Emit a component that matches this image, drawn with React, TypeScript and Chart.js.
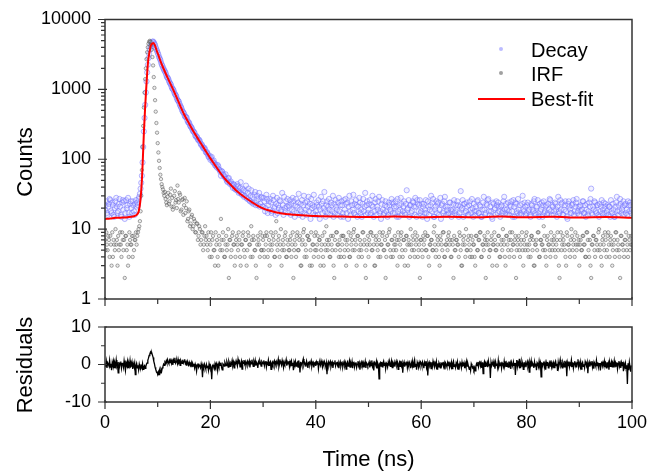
import React, { useEffect, useRef } from 'react';
import { Chart, registerables } from 'chart.js';

Chart.register(...registerables);

// ---------- data ----------
const TIME_STEP = 0.125; // ns per channel, channels from 0 to 100 ns

const DECAY = [
  19, 22, 25, 17, 16, 21, 23, 27, 26, 18, 17, 24, 22, 16, 15, 20, 25, 28, 21, 17, 18, 23, 27, 21, 16, 15, 24, 26, 19, 25, 14, 17, 26, 20, 22, 28, 17, 15, 23, 25,
  20, 17, 25, 22, 18, 16, 23, 26, 21, 24, 22, 27, 29, 32, 38, 46, 58, 90, 150, 250, 390, 600, 900, 1300, 1750, 2250, 2800, 3250, 3700, 4050, 4350, 4600, 4800, 4850, 4700, 4500, 4300, 4000, 3750, 3550,
  3350, 3150, 2920, 2780, 2640, 2450, 2280, 2180, 2060, 1960, 1870, 1800, 1720, 1600, 1500, 1470, 1420, 1330, 1260, 1210, 1170, 1090, 1030, 1010, 975, 910, 860, 835, 805, 750, 705, 690, 670, 625, 590, 565, 540, 505, 480, 468,
  450, 418, 402, 405, 392, 360, 338, 341, 326, 305, 293, 288, 276, 260, 249, 247, 238, 219, 210, 214, 205, 192, 186, 190, 181, 168, 160, 163, 153, 145, 142, 146, 138, 127, 124, 126, 118, 110, 106, 112,
  98, 104, 108, 95, 90, 96, 88, 82, 84, 79, 76, 83, 79, 72, 70, 66, 58, 68, 66, 61, 60, 57, 55, 61, 52, 49, 47, 53, 54, 46, 44, 48, 45, 42, 39, 44, 43, 38, 37, 41,
  36, 44, 41, 33, 34, 39, 47, 32, 31, 38, 36, 29, 30, 35, 42, 28, 27, 33, 38, 26, 25, 30, 36, 24, 29, 23, 24, 31, 34, 22, 25, 30, 22, 27, 33, 21, 23, 29, 28, 21,
  21, 28, 25, 18, 20, 31, 27, 17, 22, 25, 19, 27, 24, 17, 18, 30, 26, 20, 21, 16, 23, 28, 17, 22, 20, 26, 25, 18, 19, 33, 22, 16, 29, 20, 18, 25, 21, 27, 17, 22,
  21, 26, 16, 23, 19, 28, 25, 18, 15, 22, 27, 17, 21, 24, 32, 16, 19, 23, 18, 26, 15, 22, 30, 17, 24, 19, 16, 25, 21, 29, 18, 23, 14, 27, 20, 22, 17, 31, 21, 16,
  18, 24, 22, 16, 26, 21, 14, 19, 29, 23, 17, 25, 20, 34, 18, 15, 22, 25, 17, 21, 27, 19, 16, 24, 22, 18, 30, 15, 23, 17, 26, 21, 19, 16, 24, 28, 18, 22, 15, 25,
  22, 17, 15, 26, 19, 27, 23, 17, 24, 14, 21, 30, 18, 16, 25, 22, 19, 31, 17, 23, 16, 26, 22, 15, 21, 18, 28, 24, 17, 19, 15, 23, 27, 18, 21, 33, 16, 22, 25, 17,
  19, 23, 26, 16, 17, 22, 30, 21, 15, 18, 24, 27, 16, 21, 19, 25, 29, 17, 18, 14, 23, 26, 19, 16, 17, 22, 25, 18, 21, 15, 16, 24, 22, 19, 18, 27, 24, 17, 23, 21,
  17, 25, 21, 15, 27, 18, 15, 22, 19, 28, 23, 16, 18, 21, 25, 17, 16, 23, 36, 19, 20, 26, 15, 22, 22, 17, 18, 25, 24, 21, 16, 28, 21, 15, 26, 23, 18, 22, 26, 17,
  18, 23, 15, 21, 23, 17, 19, 26, 17, 14, 25, 21, 16, 19, 22, 30, 18, 24, 27, 15, 15, 19, 21, 25, 17, 23, 24, 16, 19, 28, 14, 22, 23, 17, 18, 25, 29, 21, 16, 19,
  21, 16, 17, 24, 24, 19, 15, 18, 19, 23, 26, 17, 18, 22, 16, 25, 22, 15, 17, 21, 35, 19, 20, 26, 15, 23, 23, 17, 18, 24, 21, 16, 16, 22, 25, 19, 17, 27, 20, 15,
  23, 18, 16, 21, 18, 25, 26, 17, 17, 22, 21, 15, 15, 19, 24, 29, 19, 16, 17, 23, 22, 26, 27, 18, 16, 21, 18, 15, 14, 24, 23, 19, 20, 16, 25, 22, 17, 24, 21, 18,
  15, 21, 22, 17, 18, 25, 29, 19, 17, 23, 19, 16, 24, 18, 16, 22, 21, 25, 18, 15, 26, 21, 15, 24, 23, 18, 17, 27, 19, 16, 22, 17, 16, 23, 30, 19, 18, 24, 21, 16,
  17, 22, 24, 18, 19, 16, 15, 23, 22, 19, 18, 25, 27, 17, 16, 21, 21, 26, 17, 15, 23, 18, 19, 24, 15, 22, 25, 17, 18, 21, 22, 16, 17, 23, 19, 27, 26, 18, 16, 22,
  21, 16, 18, 24, 23, 19, 15, 21, 29, 18, 17, 26, 19, 23, 24, 16, 16, 19, 22, 25, 18, 15, 14, 23, 25, 21, 19, 17, 17, 22, 23, 26, 16, 18, 21, 24, 27, 17, 18, 21,
  16, 21, 22, 18, 19, 25, 25, 17, 17, 22, 15, 19, 23, 16, 18, 24, 21, 27, 38, 17, 16, 21, 19, 25, 24, 18, 17, 22, 22, 16, 15, 23, 18, 21, 26, 17, 19, 24, 17, 21,
  23, 17, 18, 22, 16, 21, 21, 15, 26, 18, 17, 23, 19, 15, 15, 21, 24, 29, 18, 16, 22, 18, 27, 23, 17, 19, 21, 25, 16, 22, 23, 17, 19, 16, 25, 22, 18, 24, 22, 17,
  19,
];

const IRF = [
  7, 5, 9, 6, 5, 8, 7, 4, 8, 6, 3, 9, 4, 7, 6, 5, 10, 6, 7, 3, 8, 5, 6, 9, 6, 4, 9, 7, 5, 7, 2, 8, 8, 5, 6, 3, 4, 9, 7, 6,
  6, 8, 4, 8, 5, 7, 7, 9, 6, 8, 9, 10, 11, 13, 18, 30, 70, 150, 300, 550, 900, 1400, 2000, 2700, 3400, 4000, 4500, 4800, 4950, 4800, 4300, 3700, 2900, 2200, 1500, 1050, 700, 480, 330, 240,
  170, 125, 95, 75, 60, 52, 44, 40, 37, 33, 30, 34, 27, 24, 22, 29, 33, 23, 25, 31, 38, 21, 28, 19, 21, 30, 35, 24, 26, 20, 42, 27, 24, 33, 31, 18, 19, 26, 27, 16,
  22, 28, 17, 20, 25, 13, 14, 18, 19, 11, 12, 15, 16, 10, 11, 14, 13, 9, 9, 12, 12, 7, 8, 11, 10, 6, 7, 9, 9, 5, 6, 8, 11, 7, 8, 6, 5, 9, 7, 4,
  6, 9, 4, 7, 8, 5, 5, 3, 9, 6, 7, 4, 3, 8, 6, 5, 14, 7, 5, 9, 7, 4, 4, 6, 8, 5, 6, 10, 2, 7, 7, 4, 5, 8, 9, 6, 6, 3, 4, 7,
  8, 6, 5, 9, 7, 4, 3, 6, 6, 8, 9, 5, 4, 7, 7, 3, 5, 9, 8, 6, 6, 4, 11, 7, 4, 8, 7, 5, 5, 3, 2, 6, 8, 7, 6, 4, 9, 5, 5, 8,
  7, 5, 4, 8, 6, 9, 8, 4, 5, 7, 3, 6, 9, 5, 6, 8, 7, 4, 4, 9, 13, 6, 5, 7, 8, 4, 6, 10, 3, 5, 7, 6, 5, 8, 9, 4, 4, 7, 6, 5,
  5, 7, 8, 4, 6, 9, 2, 5, 7, 6, 4, 8, 9, 5, 5, 7, 8, 3, 3, 6, 7, 9, 10, 4, 6, 5, 4, 8, 8, 7, 7, 3, 5, 9, 3, 6, 6, 4, 8, 5,
  9, 5, 6, 8, 4, 7, 7, 3, 5, 6, 8, 4, 3, 9, 6, 5, 11, 7, 5, 6, 7, 4, 4, 8, 6, 5, 8, 3, 2, 7, 5, 9, 9, 6, 6, 4, 7, 5, 4, 8,
  6, 8, 8, 4, 5, 7, 3, 6, 7, 5, 9, 4, 4, 8, 6, 7, 5, 9, 10, 5, 7, 6, 3, 8, 8, 4, 5, 7, 6, 5, 4, 9, 9, 6, 7, 3, 2, 5, 6, 8,
  4, 7, 6, 9, 9, 5, 5, 8, 6, 3, 3, 7, 8, 6, 5, 4, 7, 9, 4, 6, 6, 8, 9, 5, 5, 7, 2, 4, 8, 6, 6, 9, 10, 5, 4, 7, 7, 4, 5, 6,
  8, 6, 5, 7, 3, 9, 7, 4, 6, 8, 9, 5, 4, 7, 7, 3, 5, 8, 8, 6, 3, 7, 6, 4, 10, 6, 5, 8, 7, 5, 4, 9, 6, 7, 8, 4, 5, 6, 2, 7,
  7, 5, 4, 8, 6, 7, 9, 5, 5, 8, 8, 4, 3, 6, 6, 7, 7, 5, 5, 9, 11, 6, 4, 5, 8, 7, 6, 4, 3, 8, 7, 6, 5, 9, 9, 4, 4, 6, 6, 7,
  5, 8, 9, 6, 7, 4, 4, 7, 6, 2, 8, 5, 5, 7, 7, 6, 6, 4, 9, 8, 5, 3, 3, 6, 7, 8, 6, 4, 10, 5, 5, 7, 8, 6, 4, 5, 8, 4, 7, 6,
  6, 4, 3, 8, 8, 5, 5, 7, 7, 9, 9, 4, 4, 6, 6, 5, 8, 7, 2, 6, 7, 9, 6, 4, 5, 5, 7, 8, 3, 6, 6, 9, 7, 5, 5, 3, 6, 8, 8, 4,
  4, 6, 7, 5, 10, 7, 6, 4, 3, 8, 8, 6, 5, 7, 4, 9, 7, 5, 9, 6, 6, 4, 7, 8, 2, 5, 6, 7, 8, 5, 4, 6, 7, 9, 5, 3, 7, 6, 5, 8,
  9, 6, 5, 4, 6, 7, 4, 8, 8, 5, 7, 3, 3, 6, 6, 7, 5, 9, 9, 4, 4, 7, 7, 6, 6, 5, 11, 8, 5, 4, 3, 7, 8, 6, 6, 5, 4, 9, 7, 5,
  6, 7, 8, 5, 4, 6, 7, 9, 5, 3, 2, 7, 9, 5, 6, 8, 7, 6, 5, 4, 3, 9, 8, 6, 6, 5, 4, 7, 10, 8, 5, 6, 7, 4, 9, 6, 5, 8, 6, 7,
  3, 6, 7, 5, 5, 8, 8, 6, 6, 4, 4, 9, 9, 7, 5, 4, 7, 3, 2, 6, 6, 8, 8, 5, 4, 7, 7, 6, 5, 9, 10, 5, 6, 4, 3, 7, 8, 6, 5, 9,
  7, 4, 5, 8, 9, 6, 4, 7, 8, 6, 3, 5, 6, 7, 4, 9, 9, 5, 7, 6, 5, 4, 2, 8, 8, 6, 6, 5, 4, 7, 7, 9, 5, 6, 4, 8, 7, 5, 6, 8,
  6,
];

const RESIDUALS = [
  0.3, -0.6, 0.8, -0.9, 0.5, 0.1, -0.4, 1.1, -0.7, 0.2, -1.5, 0.6, -0.2, 0.9, -0.8, 0.4, -0.3, 1.2, -0.5, 0.0, -2.2, 0.7, -0.6, 0.3, 0.8, -1.0, 0.2, 0.5, -0.7, 1.0, -0.3, -1.6, 0.4, -0.2, 0.9, -0.8, 0.3, -0.4, 1.1, -0.6,
  -0.4, 0.6, -1.2, 0.2, -0.5, 0.4, -2.7, -0.3, 0.3, -0.9, -0.2, -1.4, 0.1, -0.7, -1.1, -0.4, -0.9, 0.2, -1.3, -0.6, -0.3, -1.0, -0.5, 0.1, 0.4, 1.1, 1.7, 2.4, 2.8, 3.3, 2.9, 3.1, 2.5, 1.9, 0.9, 0.2, -0.7, -1.3, -1.8, -2.1,
  -2.4, -1.9, -2.7, -1.6, -2.2, -1.3, -1.8, -0.9, -0.5, 0.1, -0.2, 0.6, 0.3, 1.0, 0.4, 1.3, 0.6, 0.2, 1.1, 0.5, 1.6, 0.3, 0.9, -0.1, 1.2, 0.6, 1.8, 0.4, 0.8, 1.0, 0.2, 1.4, 0.5, 0.9, -0.2, 1.1, 0.7, 0.3, 1.3, 0.4,
  0.8, 1.4, 0.2, 0.6, -0.3, 0.9, 0.4, -0.5, 0.6, 0.1, -0.2, 0.5, -0.7, 0.3, -0.4, 0.2, -0.9, 0.1, -0.5, -1.8, -0.2, 0.3, -0.7, -0.1, -0.4, -0.9, 0.2, -0.6, -3.4, -0.3, -1.0, 0.1, -0.5, -1.2, 0.0, -0.8, -0.3, -1.5, 0.2, -0.6,
  -0.2, -0.9, -3.9, -0.4, -0.1, -0.7, -1.1, 0.2, -0.5, 0.3, -0.3, -1.6, 0.1, -0.6, 0.4, -0.2, 0.5, -0.8, -1.4, 0.2, 0.0, -0.4, 0.6, 0.1, -0.3, 0.8, 0.2, -0.7, 0.9, 0.3, -0.5, 0.4, 0.1, 1.1, -0.2, 0.6, -0.9, 0.5, 0.2, 1.0,
  0.3, -0.4, 1.4, 0.5, 0.8, -0.6, 0.2, 0.9, -1.2, 0.6, 0.3, 1.2, 0.1, 0.7, -0.3, 0.5, 0.9, -0.2, 0.4, 1.0, -0.8, 0.6, 0.2, 1.3, 0.4, -0.5, 0.8, 0.1, 1.1, -0.3, 0.6, 0.3, -0.9, 0.7, 0.2, 1.0, 0.4, -0.4, 0.8, 0.5,
  0.2, 1.1, -0.3, 0.6, 0.9, -0.7, 0.4, 0.1, 1.2, -0.2, 0.5, 0.8, -1.3, 0.3, 0.7, 0.0, 0.6, 1.0, -0.4, 0.3, 0.8, -0.1, 0.5, 1.4, -0.6, 0.2, 0.9, 0.4, -0.2, 1.1, 0.3, -0.8, 0.7, 0.1, 0.5, 1.3, -0.3, 0.6, 0.2, 0.9,
  -0.5, 0.8, 0.3, 1.0, -0.2, 0.5, -1.5, 0.7, 0.1, 0.9, -0.4, 0.3, 0.6, -0.7, 1.1, 0.2, -2.1, 0.5, 0.4, -0.3, 0.8, 1.5, -0.1, 0.6, 0.3, -0.6, 0.9, 0.2, -0.9, 0.5, 0.7, -0.2, 0.4, 1.0, -0.5, 0.3, 0.6, -0.8, 0.2, 0.5,
  -0.4, 0.7, 0.1, 0.9, -1.1, 0.3, 0.5, -0.2, 1.0, 0.2, -0.7, 0.6, -0.1, 0.8, 0.3, -0.5, 0.4, -2.6, 0.2, 0.7, -0.3, 0.5, 0.9, -0.6, 0.1, 0.6, -0.9, 0.4, 0.2, 1.1, -0.4, 0.3, 0.7, -0.2, 0.5, -1.0, 0.3, 0.8, -0.5, 0.2,
  0.5, -0.6, 0.2, 0.8, -0.3, 0.4, -1.2, 0.3, 0.7, -0.4, 0.1, 1.0, -0.7, 0.4, -0.2, 0.8, -1.0, 0.3, 0.5, -0.5, 0.2, 0.6, -0.8, 0.1, 0.9, -0.3, 0.4, -1.4, 0.2, 0.7, -0.1, 0.5, -0.6, 0.3, -0.2, 0.8, -0.9, 0.4, 0.1, -0.4,
  0.2, 0.7, -0.8, 0.4, -0.3, 1.1, -0.5, 0.1, -1.6, 0.6, 0.3, -0.2, 0.8, -0.9, 0.4, -0.1, -3.8, 0.2, 0.5, -0.4, 0.7, -0.6, 0.3, 0.9, -0.2, 0.5, -1.1, 0.4, 0.1, -0.7, 0.6, -0.3, 0.8, -0.5, 0.2, 1.0, -0.8, 0.3, -0.2, 0.6,
  -0.6, 0.3, 0.9, -0.2, 0.5, -1.3, 0.1, 0.6, -0.5, 1.0, -0.3, 0.4, -2.2, 0.2, 0.7, -0.6, 0.3, -0.1, 0.8, -0.9, 0.4, -0.4, 0.6, 0.1, -1.0, 0.5, -0.2, 0.9, -0.7, 0.3, 1.2, -0.5, 0.2, -1.4, 0.6, 0.0, -0.8, 0.5, -0.3, 0.7,
  0.4, -0.4, 0.7, 0.1, -1.0, 0.5, -0.2, 0.9, -0.7, 0.3, -2.9, 0.3, 0.7, -0.3, 0.2, -1.1, 0.6, -0.5, 0.9, 0.1, -0.7, 0.4, -0.2, 0.8, -1.2, 0.3, -0.6, 0.5, 0.1, -0.9, 0.6, -0.4, 0.2, 0.7, -0.5, 0.3, -1.3, 0.4, 0.0, -0.6,
  0.5, -0.3, 0.8, -0.7, 0.2, -0.4, 0.6, -1.1, 0.3, 0.9, -0.5, 0.1, -0.8, 0.4, -0.2, 0.7, -1.2, 0.3, -0.6, 0.5, 0.1, -0.9, 0.6, -0.4, -0.3, 0.4, -1.0, 0.2, -0.6, 0.8, -0.4, 0.1, -0.7, -1.3, -0.5, -1.6, 0.2, -0.3, -0.9, -0.6,
  -1.4, -0.8, -1.7, -0.5, 0.2, -0.3, 0.7, -0.6, 0.4, 1.0, -0.4, 0.3, -0.9, 0.6, -2.4, 0.2, 0.8, -0.5, 0.3, -0.1, 0.5, -0.7, 0.9, -0.3, 0.2, -3.6, 0.6, -0.4, 0.1, 0.8, -0.6, 0.4, -1.1, 0.7, -0.2, 0.3, -0.8, 1.1, -0.5, 0.2,
  -0.3, 0.6, -1.0, 0.4, 0.1, -0.6, 0.9, -0.4, 0.3, -0.5, 0.5, 0.2, -0.7, 0.8, -0.3, 0.4, -1.2, 0.6, 0.0, -0.5, 0.7, -0.2, 0.4, -2.8, 0.3, 1.2, -0.6, 0.5, -0.1, 1.5, -0.8, 0.3, -0.4, 0.9, 0.2, -1.3, 0.6, -0.3, 0.4, -0.7,
  0.2, 0.8, -0.5, 0.3, -2.0, 0.6, -0.2, 1.0, -0.6, 0.4, 0.1, -0.9, 0.7, -0.4, 0.3, -1.5, 0.5, 0.2, -0.6, 0.9, -0.3, 0.4, -3.3, 0.6, -0.5, 0.2, 0.8, -0.7, 0.3, -1.4, 0.5, -0.2, 0.7, -0.9, 0.1, 0.6, -0.4, 1.1, -0.6, 0.3,
  -0.2, 0.5, -0.8, 0.4, 0.9, -0.3, 0.2, -1.7, 0.6, -0.5, 0.3, 1.3, -0.4, 0.1, -0.9, 0.7, 0.2, -0.6, 1.0, -0.2, 0.4, -3.1, 0.5, -0.3, 0.8, -0.7, 0.3, -0.1, 1.2, -0.5, 0.6, -1.0, 0.3, 0.9, -0.4, 0.2, -0.8, 0.5, 1.4, -0.6,
  0.4, -0.3, 0.7, -1.2, 0.2, 0.6, -0.5, 0.1, -0.9, 0.8, 0.3, -0.4, 0.5, -2.3, 0.2, 0.7, -0.6, 0.4, -0.1, 0.9, -0.7, 0.3, -1.1, 0.5, 0.1, -0.5, 1.1, -0.3, 0.6, -0.8, 0.2, 0.4, -1.6, 0.3, 0.8, -0.4, 0.5, -0.2, 0.9, -0.7,
  0.2, -0.9, 0.6, -0.3, 0.4, -1.4, 0.7, -0.5, 0.1, 0.8, -0.6, 0.3, -0.2, 1.0, -0.8, 0.4, -0.4, 0.6, -1.2, 0.2, 0.9, -0.5, 0.3, -0.9, 0.5, -0.3, 0.7, -1.8, 0.1, -0.6, 0.4, -1.0, -0.2, -5.2, 0.3, -1.5, 0.6, -0.7, -1.9, -0.4,
  -0.5,
];

const FIT_TIME = [
  0, 1, 2, 3, 4, 5, 5.5, 6, 6.4, 6.7, 7, 7.2, 7.4, 7.6, 7.8, 8, 8.2, 8.5, 8.7, 9, 9.2, 9.5, 9.8,
  10.2, 10.6, 11.1, 12, 13, 14, 15, 16, 17, 18, 19, 20, 21, 22, 23, 24, 25, 26, 27, 28, 29, 30,
  31, 32, 33, 34, 35, 36, 38, 40, 45, 50, 55, 60, 65, 70, 75, 80, 85, 90, 95, 100,
];
const FIT_COUNTS = [
  14, 14.2, 14.5, 14.6, 14.7, 15, 15.3, 16, 18, 25, 50, 110, 260, 520, 970, 1700, 2600, 3600, 4240, 4550, 4600, 4200, 3600,
  3000, 2450, 1990, 1400, 970, 650, 440, 320, 235, 178, 135, 103, 80, 62, 50, 42, 35, 30.5, 27, 24, 21.5, 19.8,
  18.6, 17.7, 17.1, 16.6, 16.3, 16.0, 15.7, 15.4, 15.1, 14.9, 15.2, 14.8, 15.0, 14.8, 15.1, 14.8, 15.0, 14.7, 14.9, 14.6,
];

const SERIES_NAMES = ['Decay', 'IRF', 'Best-fit'];
const TIME_TICKS = [0, 20, 40, 60, 80, 100];
const TIME_MINOR = [10, 30, 50, 70, 90];
const COUNT_TICKS = [1, 10, 100, 1000, 10000];
const RESIDUAL_TICKS = [-10, 0, 10];
const RESIDUAL_MINOR = [-5, 5];
const X_TITLE = 'Time (ns)';
const Y_TITLE_TOP = 'Counts';
const Y_TITLE_BOTTOM = 'Residuals';

// ---------- styling ----------
const FONT = '"Liberation Sans", Arial, Helvetica, sans-serif';
const DECAY_BORDER = 'rgba(110,110,255,0.5)';
const DECAY_FILL = 'rgba(190,190,255,0.22)';
const IRF_BORDER = 'rgba(80,80,80,0.5)';
const IRF_FILL = 'rgba(170,170,170,0.22)';
const FIT_COLOR = '#ff0000';
const FRAME = '#333333';

const W = 650;
const TOP_H = 310;
const BOT_H = 161;
const AXIS_W = 105;
const PAD_R = 18;

function countMinor(): number[] {
  const out: number[] = [];
  for (let d = 1; d < 10000; d *= 10) for (let k = 2; k <= 9; k++) out.push(k * d);
  return out;
}

function framePlugin(id: string, yMajor: number[], yMinor: number[]) {
  return {
    id,
    afterDatasetsDraw(chart: any) {
      const { ctx, chartArea: a, scales } = chart;
      ctx.save();
      ctx.strokeStyle = FRAME;
      ctx.lineWidth = 1.5;
      ctx.strokeRect(a.left, a.top, a.right - a.left, a.bottom - a.top);
      ctx.lineWidth = 1.2;
      ctx.beginPath();
      for (const v of yMajor) {
        const y = scales.y.getPixelForValue(v);
        ctx.moveTo(a.left - 7, y);
        ctx.lineTo(a.left + 2, y);
      }
      for (const v of yMinor) {
        const y = scales.y.getPixelForValue(v);
        ctx.moveTo(a.left - 4, y);
        ctx.lineTo(a.left, y);
      }
      for (const v of TIME_TICKS) {
        const x = scales.x.getPixelForValue(v);
        ctx.moveTo(x, a.bottom - 2);
        ctx.lineTo(x, a.bottom + 7);
      }
      for (const v of TIME_MINOR) {
        const x = scales.x.getPixelForValue(v);
        ctx.moveTo(x, a.bottom);
        ctx.lineTo(x, a.bottom + 5);
      }
      ctx.stroke();
      ctx.restore();
    },
  };
}

function verticalTitle(ctx: CanvasRenderingContext2D, text: string, x: number, y: number) {
  ctx.save();
  ctx.translate(x, y);
  ctx.rotate(-Math.PI / 2);
  ctx.fillStyle = '#000';
  ctx.font = `22px ${FONT}`;
  ctx.textAlign = 'center';
  ctx.textBaseline = 'middle';
  ctx.fillText(text, 0, 0);
  ctx.restore();
}

const topDecor = {
  id: 'topDecor',
  afterDraw(chart: any) {
    const { ctx } = chart;
    verticalTitle(ctx, Y_TITLE_TOP, 26, 162);
    ctx.save();
    ctx.font = `20px ${FONT}`;
    ctx.fillStyle = '#000';
    ctx.textAlign = 'left';
    ctx.textBaseline = 'alphabetic';
    ctx.fillText(SERIES_NAMES[0], 531, 57);
    ctx.fillText(SERIES_NAMES[1], 531, 81);
    ctx.fillText(SERIES_NAMES[2], 531, 106);
    ctx.beginPath();
    ctx.arc(501, 49, 2, 0, Math.PI * 2);
    ctx.fillStyle = 'rgba(170,170,255,0.8)';
    ctx.fill();
    ctx.beginPath();
    ctx.arc(501, 73, 2, 0, Math.PI * 2);
    ctx.fillStyle = 'rgba(150,150,150,0.9)';
    ctx.fill();
    ctx.beginPath();
    ctx.moveTo(478, 99);
    ctx.lineTo(525, 99);
    ctx.strokeStyle = FIT_COLOR;
    ctx.lineWidth = 2;
    ctx.stroke();
    ctx.restore();
  },
};

const bottomDecor = {
  id: 'bottomDecor',
  afterDraw(chart: any) {
    const { ctx, chartArea: a } = chart;
    verticalTitle(ctx, Y_TITLE_BOTTOM, 26, 55);
    ctx.save();
    ctx.font = `22px ${FONT}`;
    ctx.fillStyle = '#000';
    ctx.textAlign = 'center';
    ctx.textBaseline = 'middle';
    ctx.fillText(X_TITLE, (a.left + a.right) / 2, 150);
    ctx.restore();
  },
};

const tickFont = { family: FONT, size: 18 };

const fixY = (s: any) => { s.width = AXIS_W; s.paddingTop = 0; s.paddingBottom = 0; };

export default function App() {
  const topRef = useRef<HTMLCanvasElement>(null);
  const botRef = useRef<HTMLCanvasElement>(null);

  useEffect(() => {
    const decayPts = DECAY.map((v, i) => ({ x: i * TIME_STEP, y: v }));
    const irfPts = IRF.map((v, i) => ({ x: i * TIME_STEP, y: v }));
    const fitPts = FIT_TIME.map((t, i) => ({ x: t, y: FIT_COUNTS[i] }));
    const resPts = RESIDUALS.map((v, i) => ({ x: i * TIME_STEP, y: v }));

    const top = new Chart(topRef.current!, {
      type: 'scatter',
      data: {
        datasets: [
          {
            label: SERIES_NAMES[0], data: decayPts, order: 2,
            pointRadius: 2.6, pointBorderWidth: 1,
            borderColor: DECAY_BORDER, backgroundColor: DECAY_FILL, showLine: false,
          },
          {
            label: SERIES_NAMES[1], data: irfPts, order: 1,
            pointRadius: 1.7, pointBorderWidth: 1,
            borderColor: IRF_BORDER, backgroundColor: IRF_FILL, showLine: false,
          },
          {
            label: SERIES_NAMES[2], data: fitPts, order: 0,
            showLine: true, pointRadius: 0, borderColor: FIT_COLOR, borderWidth: 2,
            cubicInterpolationMode: 'monotone', backgroundColor: FIT_COLOR,
          } as any,
        ],
      },
      options: {
        animation: false,
        responsive: false,
        maintainAspectRatio: false,
        devicePixelRatio: 1,
        layout: { padding: { left: 0, right: PAD_R, top: 19.5, bottom: 0 } },
        plugins: { legend: { display: false }, tooltip: { enabled: false } },
        events: [],
        scales: {
          x: {
            type: 'linear', min: 0, max: 100,
            grid: { display: false }, border: { display: false },
            ticks: { display: false },
            afterFit: (s: any) => { s.height = 11; s.paddingLeft = 0; s.paddingRight = 0; },
          },
          y: {
            type: 'logarithmic', min: 1, max: 10000,
            grid: { display: false }, border: { display: false },
            afterBuildTicks: (s: any) => { s.ticks = COUNT_TICKS.map((v) => ({ value: v })); },
            ticks: {
              color: '#000', font: tickFont, padding: 6, autoSkip: false,
              callback: (v: any) => String(v),
            },
            afterFit: fixY,
          },
        },
      } as any,
      plugins: [framePlugin('topFrame', COUNT_TICKS, countMinor()), topDecor],
    });

    const bot = new Chart(botRef.current!, {
      type: 'scatter',
      data: {
        datasets: [
          {
            label: 'Residuals', data: resPts, showLine: true, pointRadius: 0,
            borderColor: '#000', borderWidth: 1.3, backgroundColor: '#000',
          },
        ],
      },
      options: {
        animation: false,
        responsive: false,
        maintainAspectRatio: false,
        devicePixelRatio: 1,
        layout: { padding: { left: 0, right: PAD_R, top: 17, bottom: 0 } },
        plugins: { legend: { display: false }, tooltip: { enabled: false } },
        events: [],
        scales: {
          x: {
            type: 'linear', min: 0, max: 100,
            grid: { display: false }, border: { display: false },
            afterBuildTicks: (s: any) => { s.ticks = TIME_TICKS.map((v) => ({ value: v })); },
            ticks: { color: '#000', font: tickFont, padding: 2, maxRotation: 0, autoSkip: false },
            afterFit: (s: any) => { s.height = 69; s.paddingLeft = 0; s.paddingRight = 0; },
          },
          y: {
            type: 'linear', min: -10, max: 10,
            grid: { display: false }, border: { display: false },
            afterBuildTicks: (s: any) => { s.ticks = RESIDUAL_TICKS.map((v) => ({ value: v })); },
            ticks: { color: '#000', font: tickFont, padding: 6, autoSkip: false },
            afterFit: fixY,
          },
        },
      } as any,
      plugins: [framePlugin('botFrame', RESIDUAL_TICKS, RESIDUAL_MINOR), bottomDecor],
    });

    return () => {
      top.destroy();
      bot.destroy();
    };
  }, []);

  return (
    <div style={{ position: 'absolute', left: 0, top: 0, width: W, height: TOP_H + BOT_H, background: '#fff' }}>
      <canvas ref={topRef} width={W} height={TOP_H}
        style={{ position: 'absolute', left: 0, top: 0, width: W, height: TOP_H }} />
      <canvas ref={botRef} width={W} height={BOT_H}
        style={{ position: 'absolute', left: 0, top: TOP_H, width: W, height: BOT_H }} />
    </div>
  );
}
